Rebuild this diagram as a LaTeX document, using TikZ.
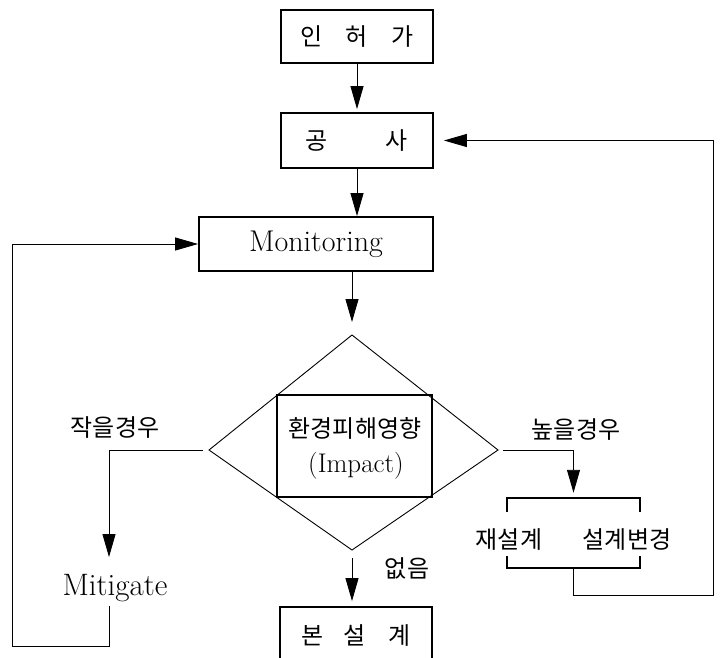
\documentclass[tikz,border=0pt]{standalone}
\usepackage{fontspec}
\newfontfamily\kr{Noto Sans CJK KR}
\usetikzlibrary{arrows.meta}
\begin{document}
\begin{tikzpicture}[x=1pt,y=-1pt,
  box/.style={draw, line width=1.8pt, inner sep=0pt, align=center},
  conn/.style={line width=0.9pt},
  arr/.style={conn, -{Triangle[length=23pt,width=13pt]}},
  krt/.style={font=\kr\fontsize{24}{28}\selectfont},
  lat/.style={font=\fontsize{30}{34}\selectfont}]
\useasboundingbox (0,0) rectangle (720,658);
\fill[white] (0,0) rectangle (720,658);

% boxes
\node[box,krt,minimum width=152pt,minimum height=53pt] (inheo) at (357,36.5) {인\hspace{23pt}허\hspace{23pt}가};
\node[box,krt,minimum width=152pt,minimum height=55pt] (gongsa) at (357,140.5) {공\hspace{58pt}사};
\node[box,lat,minimum width=234pt,minimum height=54pt] (monitor) at (316,244) {Monitoring};
\node[box,krt,minimum width=152pt,minimum height=58pt] (bon) at (356,636) {본\hspace{20pt}설\hspace{22pt}계};

% diamond
\coordinate (dT) at (352,335);
\coordinate (dR) at (498,450);
\coordinate (dB) at (352,550);
\coordinate (dL) at (209,450);
\draw[conn] (dT) -- (dR) -- (dB) -- (dL) -- cycle;
\node[box,minimum width=155pt,minimum height=102pt] (imp) at (354.5,446) {};
\node[krt] (impk) at (355,428) {환경피해영향};
\node[font=\fontsize{27}{30}\selectfont] (impe) at (356,466) {(Impact)};

% Mitigate
\node[font=\fontsize{31}{34}\selectfont,inner sep=0pt] (mit) at (115,588) {Mitigate};
\coordinate (lk) at (109,450);

% bracket group
\node[minimum width=133pt,minimum height=70pt,inner sep=0pt] (brk) at (573.5,533) {};
\draw[line width=1.8pt] ([yshift=-14pt]brk.north west) -- (brk.north west) -- (brk.north east) -- ([yshift=-14pt]brk.north east);
\draw[line width=1.8pt] ([yshift=12pt]brk.south west) -- (brk.south west) -- (brk.south east) -- ([yshift=12pt]brk.south east);
\node[krt] (jae) at (509,540) {재설계};
\node[krt] (byeon) at (627,540) {설계변경};

% labels
\node[krt] (small) at (115,428) {작을경우};
\node[krt] (high) at (576,430) {높을경우};
\node[krt] (none) at (407,568) {없음};

% connectors
\draw[arr, shorten >=3pt] (inheo.south) -- (gongsa.north);
\draw[arr] (gongsa.south) -- (gongsa.south |- monitor.north);
\draw[arr, shorten >=13pt] (dT |- monitor.south) -- (dT);
\draw[arr, shorten <=6pt, shorten >=17pt] (dL) -| (mit.north -| lk);
\draw[arr, shorten <=5pt, shorten >=5pt] (dR) -| (brk.north);
\draw[arr, shorten <=8pt, shorten >=5pt] (dB) -- (dB |- bon.north);
\coordinate (lc) at (12,646);
\draw[arr, shorten <=4pt] (mit.south -| lk) |- (lc) |- (monitor.west);
\coordinate (rc) at (713,595);
\draw[arr, shorten >=10pt] (brk.south) |- (rc) |- (gongsa.east);
\end{tikzpicture}
\end{document}
